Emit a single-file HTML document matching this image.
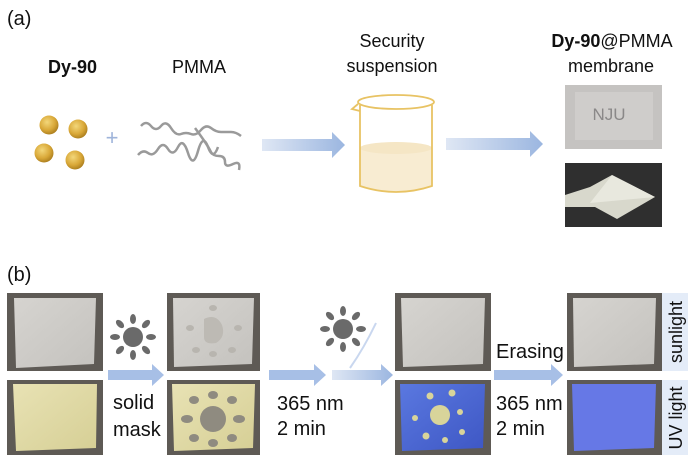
<!DOCTYPE html>
<html><head><meta charset="utf-8"><style>
html,body{margin:0;padding:0;background:#fff;}
svg{display:block;font-family:"Liberation Sans",Arial,sans-serif;}
</style></head><body>
<svg width="700" height="465" viewBox="0 0 700 465" xmlns="http://www.w3.org/2000/svg">
<defs>
<linearGradient id="ar" x1="0" x2="1"><stop offset="0" stop-color="#dfe7f4"/><stop offset="1" stop-color="#9bb6e0"/></linearGradient>
<radialGradient id="sp" cx="0.4" cy="0.35" r="0.7"><stop offset="0" stop-color="#f3d77a"/><stop offset="0.6" stop-color="#d9a838"/><stop offset="1" stop-color="#a77a1c"/></radialGradient>
<linearGradient id="pap" x1="0" y1="0" x2="1" y2="1"><stop offset="0" stop-color="#d6d4d0"/><stop offset="1" stop-color="#c4c2be"/></linearGradient>
<linearGradient id="yel" x1="0" y1="0" x2="1" y2="1"><stop offset="0" stop-color="#e8e2b4"/><stop offset="1" stop-color="#d6cf95"/></linearGradient>
<linearGradient id="blu" x1="0" y1="0" x2="1" y2="1"><stop offset="0" stop-color="#5a78e0"/><stop offset="1" stop-color="#3e57c4"/></linearGradient>
<g id="sun"><circle r="10" fill="#6a6a6a"/>
<g fill="#6a6a6a"><ellipse cx="0" cy="-18" rx="3" ry="5"/><ellipse cx="0" cy="18" rx="3" ry="5"/><ellipse cx="-18" cy="0" rx="5" ry="3"/><ellipse cx="18" cy="0" rx="5" ry="3"/>
<ellipse cx="13" cy="-13" rx="3" ry="5" transform="rotate(45 13 -13)"/><ellipse cx="-13" cy="13" rx="3" ry="5" transform="rotate(45 -13 13)"/><ellipse cx="-13" cy="-13" rx="3" ry="5" transform="rotate(-45 -13 -13)"/><ellipse cx="13" cy="13" rx="3" ry="5" transform="rotate(-45 13 13)"/></g></g>
</defs>
<!-- (a) -->
<text x="7" y="25" font-size="20" fill="#111">(a)</text>
<text x="48" y="73" font-size="18" font-weight="bold" fill="#111">Dy-90</text>
<text x="172" y="73" font-size="18" fill="#111">PMMA</text>
<text x="392" y="47" font-size="18" fill="#111" text-anchor="middle">Security</text>
<text x="392" y="72" font-size="18" fill="#111" text-anchor="middle">suspension</text>
<text x="612" y="47" font-size="18" fill="#111" text-anchor="middle"><tspan font-weight="bold">Dy-90</tspan>@PMMA</text>
<text x="611" y="72" font-size="18" fill="#111" text-anchor="middle">membrane</text>
<circle cx="49" cy="125" r="9.5" fill="url(#sp)"/><circle cx="78" cy="129" r="9.5" fill="url(#sp)"/>
<circle cx="44" cy="153" r="9.5" fill="url(#sp)"/><circle cx="75" cy="160" r="9.5" fill="url(#sp)"/>
<text x="112" y="145" font-size="22" fill="#9fb4da" text-anchor="middle">+</text>
<g fill="none" stroke="#9a9a9a" stroke-width="2.5">
<path d="M141 126 q5-6 10 0 t10 0 t10 2 t10 6 t10 0 t10-4 t10-2 t10 4 t10 0 t10 4"/>
<path d="M138 155 q5-6 10-2 t10-4 t10 0 t10-2 t10 6 t10-2 t10-4 t10 0"/>
<path d="M195 128 q6 8 10 14 t6 10 t8 4 t6 6 t8 2 t6 6"/>
</g>
<path d="M262 139 h70 v-7 l13 13 l-13 13 v-7 h-70z" fill="url(#ar)"/>
<path d="M446 138 h84 v-7 l13 13 l-13 13 v-7 h-84z" fill="url(#ar)"/>
<!-- beaker -->
<path d="M360 148 v38 q36 12 72 0 v-38 z" fill="#f8ecd2"/>
<ellipse cx="396" cy="148" rx="36" ry="6" fill="#f5e6c5"/>
<path d="M360 105 v81 q36 12 72 0 v-81" fill="none" stroke="#e8c364" stroke-width="1.8"/>
<ellipse cx="396" cy="102" rx="38" ry="7" fill="none" stroke="#e8c364" stroke-width="1.8"/>
<path d="M358 104 l-6 5 l8 2" fill="none" stroke="#e8c364" stroke-width="1.8"/>
<!-- photos a -->
<rect x="565" y="85" width="97" height="64" fill="#c5c3c1"/>
<rect x="575" y="92" width="78" height="48" fill="#cfcdcb"/>
<text x="609" y="120" font-size="17" fill="#8a8888" text-anchor="middle">NJU</text>
<rect x="565" y="163" width="97" height="64" fill="#2f2f2f"/>
<path d="M565 195 l25 -8 l22 -12 l43 22 l-38 22 l-22-12 l-30 0z" fill="#d8d8cc"/>
<path d="M590 203 l22 -28 l43 22z" fill="#e8e8de"/>
<!-- (b) -->
<text x="7" y="281" font-size="20" fill="#111">(b)</text>
<g>
<rect x="7" y="293" width="96" height="78" fill="#5e5a55"/><path d="M14 298 h82 l-2 66 l-78 4 z" fill="url(#pap)"/>
<rect x="7" y="380" width="96" height="75" fill="#5e5a55"/><path d="M13 384 h84 l-1 64 l-80 3 z" fill="url(#yel)"/>
<rect x="167" y="293" width="93" height="78" fill="#5e5a55"/><path d="M173 298 h81 l-2 66 l-78 3 z" fill="url(#pap)"/>
<rect x="167" y="380" width="93" height="75" fill="#5e5a55"/><path d="M172 384 h83 l-2 64 l-79 3 z" fill="url(#yel)"/>
<circle cx="213" cy="419" r="13" fill="#8f8b80"/>
<g fill="#8f8b80"><ellipse cx="213" cy="395" rx="5" ry="4"/><ellipse cx="213" cy="443" rx="5" ry="4"/><ellipse cx="187" cy="419" rx="6" ry="4"/><ellipse cx="239" cy="419" rx="6" ry="4"/><ellipse cx="194" cy="400" rx="5" ry="4"/><ellipse cx="232" cy="400" rx="5" ry="4"/><ellipse cx="194" cy="438" rx="5" ry="4"/><ellipse cx="232" cy="438" rx="5" ry="4"/></g>
<path d="M204 319 q12 -6 18 6 q4 12 -6 18 q-12 2 -12 -6z" fill="#bdbab4"/>
<g fill="#b8b5af"><ellipse cx="213" cy="308" rx="4" ry="3"/><ellipse cx="190" cy="328" rx="4" ry="3"/><ellipse cx="238" cy="328" rx="4" ry="3"/><ellipse cx="196" cy="350" rx="4" ry="3"/><ellipse cx="213" cy="354" rx="4" ry="3"/><ellipse cx="232" cy="350" rx="4" ry="3"/></g>
<rect x="395" y="293" width="96" height="78" fill="#5e5a55"/><path d="M401 298 h84 l-2 66 l-80 3 z" fill="url(#pap)"/>
<rect x="395" y="380" width="96" height="75" fill="#5e5a55"/><path d="M400 384 h85 l-2 64 l-81 3 z" fill="url(#blu)"/>
<circle cx="440" cy="415" r="10" fill="#d8d49a"/>
<g fill="#d8d49a"><circle cx="430" cy="396" r="3.5"/><circle cx="452" cy="393" r="3.5"/><circle cx="415" cy="418" r="3"/><circle cx="460" cy="412" r="3"/><circle cx="426" cy="436" r="3.5"/><circle cx="445" cy="440" r="3"/><circle cx="462" cy="432" r="3"/></g>
<rect x="567" y="293" width="95" height="78" fill="#5e5a55"/><path d="M573 298 h83 l-2 66 l-80 3 z" fill="url(#pap)"/>
<rect x="567" y="380" width="95" height="75" fill="#5e5a55"/><path d="M572 384 h84 l-2 64 l-80 3 z" fill="#6678e6"/>
<rect x="662" y="293" width="26" height="78" fill="#e4ecf8"/>
<rect x="662" y="380" width="26" height="75" fill="#e4ecf8"/>
<text transform="translate(682 332) rotate(-90)" font-size="18" fill="#111" text-anchor="middle">sunlight</text>
<text transform="translate(682 418) rotate(-90)" font-size="18" fill="#111" text-anchor="middle">UV light</text>
</g>
<use href="#sun" x="133" y="337"/>
<use href="#sun" x="343" y="329"/>
<path d="M108 370 h44 v-6 l12 11 l-12 11 v-6 h-44z" fill="#a7bfe6"/>
<path d="M269 370 h45 v-6 l12 11 l-12 11 v-6 h-45z" fill="#a7bfe6"/>
<path d="M332 370 h49 v-6 l12 11 l-12 11 v-6 h-49z" fill="url(#ar)"/>
<path d="M350 368 q14 -20 26 -45" fill="none" stroke="#c9d7ef" stroke-width="2"/>
<path d="M494 370 h57 v-6 l12 11 l-12 11 v-6 h-57z" fill="#a7bfe6"/>
<text x="113" y="409" font-size="20" fill="#111">solid</text>
<text x="113" y="436" font-size="20" fill="#111">mask</text>
<text x="277" y="410" font-size="20" fill="#111">365 nm</text>
<text x="277" y="435" font-size="20" fill="#111">2 min</text>
<text x="496" y="358" font-size="20" fill="#111">Erasing</text>
<text x="496" y="410" font-size="20" fill="#111">365 nm</text>
<text x="496" y="435" font-size="20" fill="#111">2 min</text>
</svg>
</body></html>
